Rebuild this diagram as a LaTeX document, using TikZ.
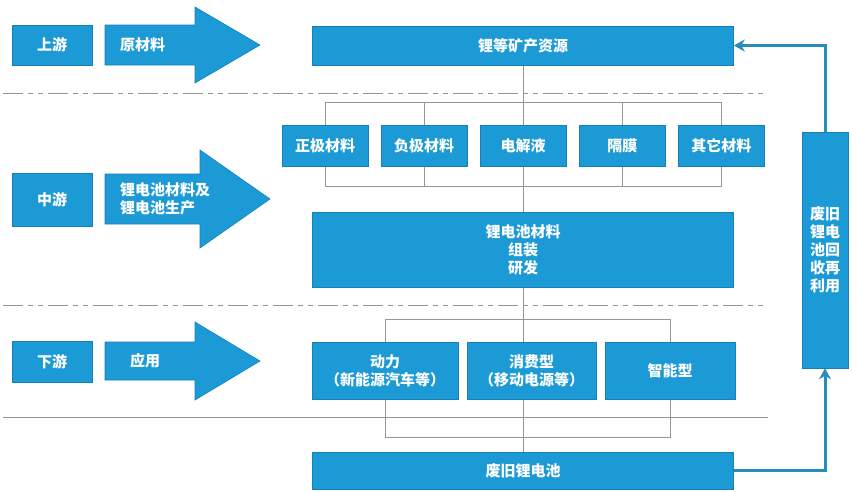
\documentclass[tikz,border=0pt]{standalone}
\usepackage{fontspec}
\newfontfamily\cjk{Noto Sans CJK SC}
\usetikzlibrary{
  arrows.meta,
  positioning,
  chains,
  backgrounds
}
\definecolor{chainBlue}{RGB}{27,154,214}
\definecolor{edgeBlue}{RGB}{22,128,186}
\definecolor{flowTeal}{RGB}{40,140,190}
\definecolor{lineGray}{RGB}{150,150,150}
\newcommand{\matBox}[2]{\node[matBox,on chain] (#1) {#2};}
\newcommand{\bigArrow}[5]{\filldraw[bigArrow]
  (105,{#1-#2}) -- (#4,{#1-#2}) -- (#4,{#1-#3}) -- (#5,#1)
  -- (#4,{#1+#3}) -- (#4,{#1+#2}) -- (105,{#1+#2}) -- cycle;}
\tikzset{
  box/.style={
    rectangle,
    draw=edgeBlue,
    fill=chainBlue,
    line width=0.6pt,
    inner sep=0pt,
    align=center,
    text=white,
    font=\cjk\bfseries\fontsize{15}{18}\selectfont
  }
}
\tikzset{
  stageBox/.style={
    box,
    minimum width=80pt
  }
}
\tikzset{
  wideBox/.style={
    box,
    minimum width=421pt
  }
}
\tikzset{
  matBox/.style={
    box,
    minimum width=86pt,
    minimum height=41pt
  }
}
\tikzset{
  appBox/.style={
    box,
    minimum height=57pt
  }
}
\tikzset{
  bigArrow/.style={
    fill=chainBlue,
    draw=edgeBlue,
    line width=0.6pt
  },
  arrowText/.style={
    anchor=west,
    inner sep=0pt,
    align=left,
    text=white,
    font=\cjk\bfseries\fontsize{15}{18}\selectfont
  }
}
\tikzset{
  guide/.style={
    draw=lineGray,
    line width=0.8pt
  },
  split/.style={
    draw=lineGray,
    line width=1pt,
    dash pattern=on 20pt off 5pt on 5pt off 5pt on 5pt off 5pt
  },
  flow/.style={
    draw=flowTeal,
    line width=3pt,
    -{Stealth[length=11pt,width=12pt]}
  }
}
\begin{document}
\begin{tikzpicture}[x=1pt, y=-1pt, >=Stealth, node distance=12.5pt]
    \useasboundingbox (0,0) rectangle (852,491);
    \node[stageBox, minimum height=40pt] (up) at (52,45) {上游};
    \node[stageBox, minimum height=53pt] (mid) at (52,199.5) {中游};
    \node[stageBox, minimum height=41pt] (down) at (52,361.5) {下游};
    \bigArrow{45}{20}{38}{195}{260}
    \bigArrow{199}{25}{49}{200}{270}
    \bigArrow{361}{19}{39}{195}{260}
    \node[arrowText] (raw) at (120,45) {原材料};
    \node[arrowText] (make) at (120,199) {锂电池材料及\\锂电池生产};
    \node[arrowText] (use) at (130,361) {应用};
    \node[wideBox, minimum height=39pt] (ore) at (523,45.5) {锂等矿产资源};
    \begin{scope}[start chain]
      \node[matBox, on chain] (cathode) at (325,145.5) {正极材料};
      \matBox{anode}{负极材料}
      \matBox{electrolyte}{电解液}
      \matBox{separator}{隔膜}
      \matBox{others}{其它材料}
    \end{scope}
    \node[wideBox, minimum height=75pt] (pack) at (523,249.5) {锂电池材料\\组装\\研发};
    \node[appBox, minimum width=146pt] (power) at (385,370.5) {动力\\（新能源汽车等）};
    \node[appBox, minimum width=129pt, right=8.5pt of power] (consumer) {消费型\\（移动电源等）};
    \node[appBox, minimum width=130pt, right=8.5pt of consumer] (smart) {智能型};
    \node[wideBox, minimum height=37pt] (scrap) at (523,470.5) {废旧锂电池};
    \node[box, minimum width=46pt, minimum height=236pt] (recycle) at (825,250) {废旧\\锂电\\池回\\收再\\利用};
    \begin{scope}[on background layer]
      \draw[split] (3,93) -- (768,93);
      \draw[split] (3,305) -- (768,305);
      \draw[guide] (3,417) -- (768,417);
      \draw[guide] (ore.south) -- (pack.north);
      \draw[guide] (cathode.north) -- ++(0,-22) -| (others.north);
      \draw[guide] (cathode.south) -- ++(0,20) -| (others.south);
      \foreach \m in {anode,separator}
        \draw[guide] (\m.north) -- ++(0,-22) (\m.south) -- ++(0,20);
      \draw[guide] (pack.south) -- (scrap.north);
      \draw[guide] (power.north) -- ++(0,-22) -| (smart.north);
      \draw[guide] (power.south) -- ++(0,38) -| (smart.south);
    \end{scope}
    \draw[flow] (scrap.east) -| (recycle.south);
    \draw[flow] (recycle.north) |- (ore.east);
  \end{tikzpicture}
\end{document}
